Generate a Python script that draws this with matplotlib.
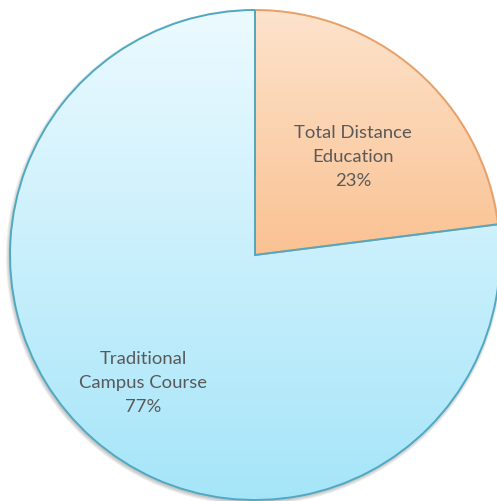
import numpy as np
import matplotlib.pyplot as plt
from matplotlib.colors import LinearSegmentedColormap
from matplotlib.patches import Circle

# share of course enrolments
labels = ['Total Distance\nEducation', 'Traditional\nCampus Course']
shares = [23, 77]
pct_labels = ['23%', '77%']

# gradient colours (top -> bottom), gradient y-range and outline per slice
grad_colors = [('#fde3cc', '#fac293'), ('#ecfaff', '#a6e5f9')]
grad_span = [(0, 1), (-1, 1)]
edge_colors = ['#e9a066', '#4fa9c2']
# label placement: distance from centre and angle tweak (deg) vs mid-angle
label_dist = [0.568, 0.69]
label_turn = [-3.3, 0.0]

fig = plt.figure(figsize=(4.97, 5.02), dpi=100)
ax = fig.add_axes([0, 0, 1, 1])

wedges, _ = ax.pie(shares, startangle=90, counterclock=False, radius=1.0,
                   wedgeprops=dict(linewidth=1.4))

# faint drop shadow under the pie
px = 1 / 245
for k in range(4):
    ax.add_patch(Circle((-1.0 * px, -2.0 * px), 1 + k * px, color='#606060',
                        alpha=0.10, lw=0, zorder=1))

for w, (c_top, c_bot), (y0, y1), ec, lab, pct, d, t in zip(
        wedges, grad_colors, grad_span, edge_colors, labels, pct_labels,
        label_dist, label_turn):
    w.set_facecolor('none')
    w.set_edgecolor(ec)
    w.set_zorder(3)
    cmap = LinearSegmentedColormap.from_list('g', [c_bot, c_top])
    grad = np.linspace(0, 1, 256).reshape(-1, 1)
    im = ax.imshow(grad, cmap=cmap, origin='lower', aspect='auto',
                   extent=[-1, 1, y0, y1], zorder=2)
    im.set_clip_path(w)
    ang = np.deg2rad((w.theta1 + w.theta2) / 2 + t)
    ax.text(d * np.cos(ang), d * np.sin(ang), lab + '\n' + pct,
            ha='center', va='center', fontsize=13.3, color='#595959',
            family='Lato', linespacing=1.6, zorder=4)

# pie centre sits at pixel (255, 256) with radius 245
ax.set_xlim(-255 / 245, 242 / 245)
ax.set_ylim(-246 / 245, 256 / 245)
ax.set_aspect('auto')
ax.axis('off')

fig.savefig('out.png', dpi=100)
